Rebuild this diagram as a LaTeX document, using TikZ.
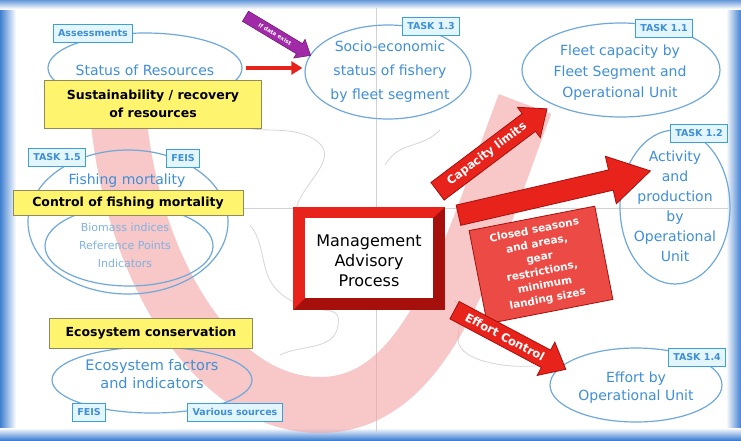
\documentclass[tikz,border=0pt]{standalone}
\usepackage{fontspec}
\setmainfont{DejaVu Sans}
\usetikzlibrary{shapes.geometric,shapes.arrows,arrows.meta}
\definecolor{frameblue}{HTML}{3F7FD0}
\definecolor{ellblue}{HTML}{6FA8DA}
\definecolor{txtblue}{HTML}{3F8FD6}
\definecolor{txtlight}{HTML}{7FB3E4}
\definecolor{tagline}{HTML}{3C9FDC}
\definecolor{tagfill}{HTML}{E4F6FD}
\definecolor{yel}{HTML}{FFF46E}
\definecolor{yelline}{HTML}{8E8A5A}
\definecolor{redA}{HTML}{E8231B}
\definecolor{redD}{HTML}{A5100C}
\definecolor{redbox}{HTML}{EC4A44}
\definecolor{pinkband}{HTML}{F4A3A3}
\definecolor{purp}{HTML}{A02AA8}
\definecolor{mapgray}{HTML}{D6D6D6}
\begin{document}
\begin{tikzpicture}[x=1pt,y=-1pt,
  ell/.style={ellipse, draw=ellblue, line width=1.2pt, inner sep=0pt},
  elltext/.style={text=txtblue, align=center, inner sep=0pt, font=\fontsize{14}{21}\selectfont},
  tag/.style={draw=tagline, fill=tagfill, line width=1pt, text=txtblue,
    font=\bfseries\fontsize{9.5}{10}\selectfont, inner xsep=5pt, inner ysep=0pt, minimum height=18pt},
  goal/.style={draw=yelline, fill=yel, line width=1pt, align=center,
    font=\bfseries\fontsize{12.5}{18}\selectfont},
  fatarrow/.style={single arrow, fill=redA, draw=redD, line width=0.8pt, text=white,
    font=\bfseries\fontsize{11.5}{12}\selectfont, inner xsep=4pt, inner ysep=5pt},
  mapline/.style={draw=mapgray, line width=0.8pt}
]
\useasboundingbox (0,0) rectangle (741,440);
% background and frame
\fill[white] (0,0) rectangle (741,440);
\shade[left color=frameblue, right color=white] (0,0) rectangle (16,440);
\shade[left color=white, right color=frameblue] (726,0) rectangle (741,440);
\shade[top color=frameblue!80, bottom color=white] (0,0) rectangle (741,9);
\shade[top color=white, bottom color=frameblue] (0,428) rectangle (741,440);
% faint grid and map outlines
\draw[gray!35, line width=0.6pt] (376,8) -- (376,432);
\draw[gray!35, line width=0.6pt] (14,208) -- (728,208);
\draw[mapline] (225,118) .. controls (250,140) and (290,120) .. (318,142)
  .. controls (340,160) and (300,185) .. (296,210);
\draw[mapline] (250,225) .. controls (270,250) and (255,280) .. (290,300)
  .. controls (320,318) and (345,300) .. (337,330) .. controls (330,350) and (300,345) .. (280,355);
\draw[mapline] (455,300) .. controls (470,330) and (440,345) .. (480,360) .. controls (520,372) and (540,362) .. (560,368);
\draw[mapline] (440,130) .. controls (420,150) and (400,140) .. (385,165);
% pink band
\draw[pinkband, opacity=0.6, line width=56pt]
  (118,112) .. controls (130,260) and (210,405) .. (320,405)
  .. controls (430,405) and (470,250) .. (525,104);
% left column
\node[ell, minimum width=194, minimum height=70] (statusres) at (145,68) {};
\node[elltext] (statusres-t) at (145,70) {Status of Resources};
\node[tag] (assess) at (93,33) {Assessments};
\node[goal, minimum width=217, minimum height=48] (sust) at (153,104) {Sustainability / recovery\\of resources};

\node[ell, minimum width=200, minimum height=144] (fishing) at (128,222) {};
\node[ell, minimum width=168, minimum height=80] (biomass) at (129,246) {};
\node[elltext] (fishing-t) at (127,181) {Fishing mortality};
\node[elltext, text=txtlight, font=\fontsize{11}{18}\selectfont] (biomass-t) at (125,245) {Biomass indices\\Reference Points\\Indicators};
\node[tag] (t15) at (57,157) {TASK 1.5};
\node[tag] (feisA) at (183,158) {FEIS};
\node[goal, minimum width=230, minimum height=25] (ctrl) at (128,203) {Control of fishing mortality};

\node[ell, minimum width=200, minimum height=66] (ecof) at (152,380) {};
\node[elltext, font=\fontsize{14.5}{18}\selectfont] (ecof-t) at (152,374) {Ecosystem factors\\and indicators};
\node[goal, minimum width=203, minimum height=30] (eco) at (151,333) {Ecosystem conservation};
\node[tag] (feisB) at (89,412) {FEIS};
\node[tag] (varsrc) at (235,412) {Various sources};

% right column
\node[ell, minimum width=166, minimum height=94] (socio) at (388,72) {};
\node[elltext, font=\fontsize{14}{24}\selectfont] (socio-t) at (390,72) {Socio-economic\\status of fishery\\by fleet segment};
\node[tag] (t13) at (431,26) {TASK 1.3};

\node[ell, minimum width=198, minimum height=94] (fleet) at (621,70) {};
\node[elltext] (fleet-t) at (620,73) {Fleet capacity by\\Fleet Segment and\\Operational Unit};
\node[tag] (t11) at (664,28) {TASK 1.1};

\node[ell, minimum width=110, minimum height=154] (activity) at (675,207) {};
\node[elltext, font=\fontsize{14}{20}\selectfont] (activity-t) at (675,206) {Activity\\and\\production\\by\\Operational\\Unit};
\node[tag] (t12) at (699,133) {TASK 1.2};

\node[ell, minimum width=172, minimum height=74] (effort) at (636,385) {};
\node[elltext, font=\fontsize{14}{18}\selectfont] (effort-t) at (636,388) {Effort by\\Operational Unit};
\node[tag] (t14) at (697,357) {TASK 1.4};

% management box (3D frame, then text)
\fill[redD] (293,207) -- (445,207) -- (445,310) -- (293,310) -- cycle;
\fill[redA] (293,207) -- (445,207) -- (433,218) -- (305,218) -- (305,298) -- (293,310) -- cycle;
\fill[white] (305,218) rectangle (433,298);
\node[font=\fontsize{16}{20}\selectfont, align=center, inner sep=0pt] (mgmt) at (369,261) {Management\\Advisory\\Process};

% connectors
\draw[redA, line width=4.5pt, -{Triangle[length=11pt,width=13pt]}, shorten <=3pt, shorten >=2pt]
  (statusres.east) -- (socio.west |- statusres.east);
\node[single arrow, fill=purp, draw=purp!70!black, line width=0.6pt, text=white,
  font=\bfseries\fontsize{5.5}{6}\selectfont, inner xsep=2pt, inner ysep=3.5pt,
  single arrow head extend=5pt, single arrow tip angle=80, minimum height=76pt,
  rotate=-31] (ifdata) at (275,34) {If data exist};

% closed seasons box
\node[rotate=11, fill=redbox, draw=redD, line width=0.8pt, text=white, align=center,
  font=\bfseries\fontsize{10.5}{14}\selectfont, minimum width=128, minimum height=95, inner sep=2pt]
  (closed) at (541,265) {Closed seasons\\and areas,\\gear\\restrictions,\\minimum\\landing sizes};

% fat arrows
\node[fatarrow, rotate=37, minimum height=137pt, single arrow head extend=8pt,
  single arrow tip angle=80] (caplim) at (487,154) {Capacity limits};
\node[fatarrow, rotate=13, minimum height=197pt, inner ysep=10pt, single arrow head extend=14pt,
  single arrow tip angle=62] (actarrow) at (546,195) {};
\node[fatarrow, rotate=-28, minimum height=126pt, single arrow head extend=9pt,
  single arrow tip angle=80] (effctrl) at (505,337) {Effort Control};
\end{tikzpicture}
\end{document}
